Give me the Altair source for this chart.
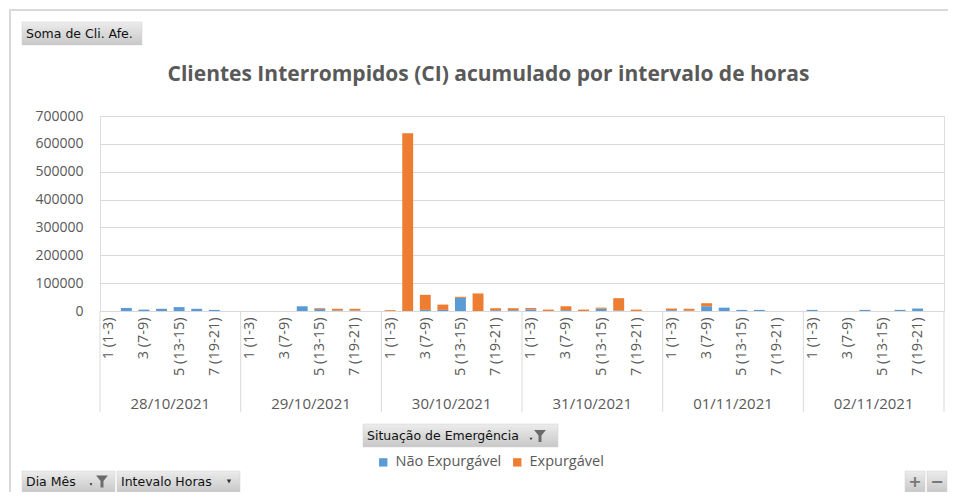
import altair as alt
import pandas as pd

days = ["28/10/2021", "29/10/2021", "30/10/2021", "31/10/2021", "01/11/2021", "02/11/2021"]
intervals = ["1 (1-3)", "2 (4-6)", "3 (7-9)", "4 (10-12)", "5 (13-15)", "6 (16-18)", "7 (19-21)", "8 (22-24)"]
series = ["Não Expurgável", "Expurgável"]

nao_expurgavel = [
    [0, 11000, 5000, 8000, 14000, 8000, 4000, 0],
    [0, 0, 0, 17000, 7000, 2000, 2000, 0],
    [0, 0, 4000, 4000, 47000, 0, 3000, 3000],
    [6000, 0, 3000, 0, 8000, 2000, 0, 0],
    [3000, 1000, 17000, 12000, 4000, 4000, 0, 0],
    [4000, 0, 0, 4000, 0, 4000, 9000, 0],
]
expurgavel = [
    [0, 0, 0, 0, 0, 0, 0, 0],
    [0, 0, 0, 0, 3000, 6000, 6000, 0],
    [3000, 638000, 54000, 19000, 4000, 63000, 7000, 7000],
    [5000, 5000, 14000, 5000, 4000, 44000, 5000, 0],
    [6000, 7000, 11000, 0, 0, 0, 0, 0],
    [0, 0, 0, 0, 0, 0, 0, 0],
]
y_ticks = [0, 100000, 200000, 300000, 400000, 500000, 600000, 700000]
title_text = "Clientes Interrompidos (CI) acumulado por intervalo de horas"

TXT = "#595959"
FONT = "Open Sans"
W, H = 844, 195

rows = []
for di, d in enumerate(days):
    for k, iv in enumerate(intervals):
        idx = di * 8 + k
        a = nao_expurgavel[di][k]
        b = expurgavel[di][k]
        rows.append({"dia": d, "intervalo": iv, "idx": idx, "serie": series[0], "y0": 0, "y1": a})
        rows.append({"dia": d, "intervalo": iv, "idx": idx, "serie": series[1], "y0": a, "y1": a + b})
df = pd.DataFrame(rows)
df = df[df["y1"] > df["y0"]]

x_scale = alt.Scale(domain=[0, 48], nice=False, zero=False)
y_scale = alt.Scale(domain=[0, 700000], nice=False)

label_list = "[" + ",".join("'" + s + "'" for s in intervals) + "]"
tick_vals = [di * 8 + k + 0.5 for di in range(len(days)) for k in (0, 2, 4, 6)]

x_axis = alt.Axis(
    values=tick_vals, labelExpr=label_list + "[floor(datum.value) % 8]",
    labelAngle=-90, labelAlign="right", labelBaseline="middle", labelPadding=6,
    ticks=False, domain=False, grid=False, title=None,
    labelFont=FONT, labelFontSize=14.5, labelColor=TXT, labelOverlap=False, labelBound=False)

bars = alt.Chart(df).transform_calculate(
    xa="datum.idx + 0.19", xb="datum.idx + 0.81"
).mark_bar(stroke=None).encode(
    x=alt.X("xa:Q", scale=x_scale, axis=x_axis),
    x2="xb:Q",
    y=alt.Y("y0:Q", scale=y_scale, axis=alt.Axis(
        values=y_ticks, format="d", title=None, ticks=False, domain=False,
        gridColor="#d9d9d9", gridWidth=1, labelPadding=17,
        labelFont=FONT, labelFontSize=14, labelColor=TXT)),
    y2="y1:Q",
    color=alt.Color("serie:N", scale=alt.Scale(domain=series, range=["#5B9BD5", "#ED7D31"]),
                    legend=alt.Legend(orient="none", legendX=276, legendY=339, direction="horizontal",
                                      title=None, symbolType="square", symbolSize=70,
                                      symbolStrokeWidth=0, labelFont=FONT, labelFontSize=14.5,
                                      labelColor=TXT, columnPadding=8, labelOffset=5)),
)

bounds = pd.DataFrame({"b": [i * 8 for i in range(len(days) + 1)]})
seps = alt.Chart(bounds).mark_rule(color="#d9d9d9", strokeWidth=1).encode(
    x=alt.X("b:Q", scale=x_scale, axis=x_axis), y=alt.value(H), y2=alt.value(H + 101))

day_df = pd.DataFrame({"dia": days, "c": [i * 8 + 4 for i in range(len(days))]})
day_text = alt.Chart(day_df).mark_text(font=FONT, fontSize=15, color=TXT, baseline="middle").encode(
    x=alt.X("c:Q", scale=x_scale, axis=x_axis), y=alt.value(H + 93), text="dia:N")

title = alt.Chart(pd.DataFrame({"t": [title_text]})).mark_text(
    font=FONT, fontSize=21, fontWeight="bold", color=TXT, baseline="middle").encode(
    x=alt.value(388.5), y=alt.value(-41), text="t:N")

# decorative frame and pivot buttons (pixel offsets relative to plot origin)
ui = pd.DataFrame([
    {"x": -78, "x2": 42, "y": -94, "y2": -71, "t": "Soma de Cli. Afe.", "tx": -74},
    {"x": 263, "x2": 458, "y": 308, "y2": 331, "t": "Situação de Emergência", "tx": 267},
    {"x": -78, "x2": 15, "y": 355, "y2": 376, "t": "Dia Mês", "tx": -74},
    {"x": 17, "x2": 140, "y": 355, "y2": 376, "t": "Intevalo Horas", "tx": 21},
    {"x": 805, "x2": 825, "y": 355, "y2": 376, "t": "", "tx": 0},
    {"x": 827, "x2": 847, "y": 355, "y2": 376, "t": "", "tx": 0},
])
ui["ty"] = (ui["y"] + ui["y2"]) / 2
btn = alt.Chart(ui).mark_rect(
    fill=alt.Gradient(gradient="linear", x1=0, y1=0, x2=0, y2=1,
                      stops=[alt.GradientStop(color="#ececec", offset=0), alt.GradientStop(color="#c8c8c8", offset=1)]),
    stroke="#d0d0d0", strokeWidth=0.5
).encode(x=alt.X("x:Q", scale=None), x2="x2:Q", y=alt.Y("y:Q", scale=None), y2="y2:Q")
btn_text = alt.Chart(ui).mark_text(align="left", baseline="middle", font="DejaVu Sans", fontSize=12.5, color="#111111").encode(
    x=alt.X("tx:Q", scale=None), y=alt.Y("ty:Q", scale=None), text="t:N")

icons = pd.DataFrame([
    {"x": 440, "y": 320, "t": "funnel"},
    {"x": 2, "y": 365.5, "t": "funnel"},
    {"x": 129, "y": 365.5, "t": "arrow"},
])
funnel = alt.Chart(icons[icons.t == "funnel"]).mark_point(
    shape="M-1,-1L1,-1L0.25,-0.1L0.25,1L-0.25,1L-0.25,-0.1Z", filled=True, color="#6b6b6b", size=140, opacity=1
).encode(x=alt.X("x:Q", scale=None), y=alt.Y("y:Q", scale=None))
arrow = alt.Chart(icons[icons.t == "arrow"]).mark_point(
    shape="triangle-down", filled=True, color="#333333", size=20, opacity=1
).encode(x=alt.X("x:Q", scale=None), y=alt.Y("y:Q", scale=None))
small_arrows = alt.Chart(pd.DataFrame({"x": [431, -9], "y": [323, 368.5]})).mark_point(
    shape="triangle-down", filled=True, color="#333333", size=8, opacity=1
).encode(x=alt.X("x:Q", scale=None), y=alt.Y("y:Q", scale=None))
pm = alt.Chart(pd.DataFrame({"x": [815, 837], "y": [365.5, 365.5], "t": ["+", "−"]})).mark_text(
    font="DejaVu Sans", fontSize=16, fontWeight="bold", color="#777777", baseline="middle").encode(
    x=alt.X("x:Q", scale=None), y=alt.Y("y:Q", scale=None), text="t:N")

frame_top = alt.Chart(pd.DataFrame({"a": [0]})).mark_rule(color="#d9d9d9", strokeWidth=2).encode(
    x=alt.value(-91), x2=alt.value(870), y=alt.value(-106))
frame_left = alt.Chart(pd.DataFrame({"a": [0]})).mark_rule(color="#d9d9d9", strokeWidth=2).encode(
    x=alt.value(-90), y=alt.value(-107), y2=alt.value(400))

chart = alt.layer(frame_top, frame_left, seps, bars, day_text, title, btn, btn_text, funnel, arrow, small_arrows, pm).properties(
    width=W, height=H,
    autosize=alt.AutoSizeParams(type="none"),
    padding={"left": 92, "top": 108, "right": 4, "bottom": 181},
).configure_view(stroke=None).configure(background="white")

chart.save("out.html", embed_options={"renderer": "svg", "actions": False})
